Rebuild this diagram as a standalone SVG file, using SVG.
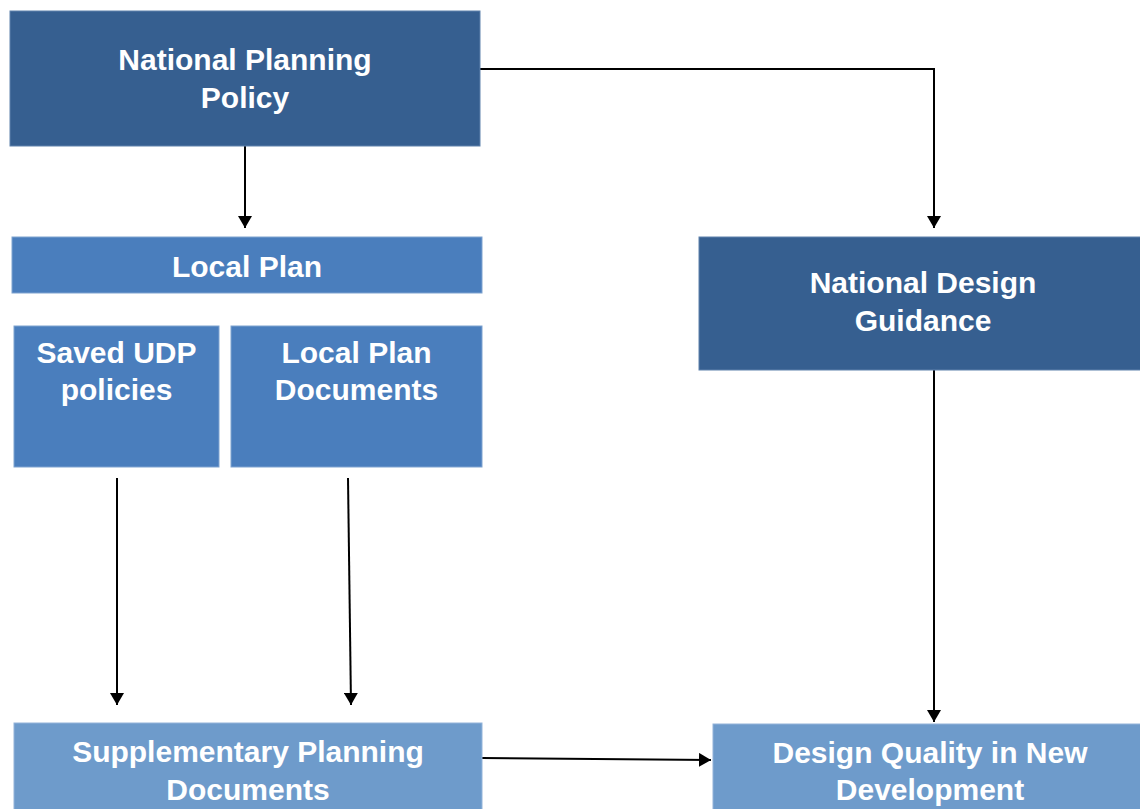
<svg xmlns="http://www.w3.org/2000/svg" width="1140" height="809" viewBox="0 0 1140 809">
<defs>
<style>
.dark{fill:#365F90;stroke:#5F82AC;stroke-width:1}
.mid{fill:#4A7EBD;stroke:#7FA3D0;stroke-width:1}
.light{fill:#6E9BCB;stroke:#93B4DA;stroke-width:1}
.t{font-family:"Liberation Sans",Arial,sans-serif;font-weight:bold;font-size:30px;fill:#ffffff;text-anchor:middle}
.c{stroke:#000;stroke-width:2;fill:none}
</style>
<marker id="ah" viewBox="0 0 12 14" refX="12" refY="7" markerWidth="12" markerHeight="14" markerUnits="userSpaceOnUse" orient="auto">
<path d="M0,0 L12,7 L0,14 z" fill="#000"/>
</marker>
</defs>
<rect width="1140" height="809" fill="#ffffff"/>
<g id="connectors">
<path class="c" d="M245,146 V228" marker-end="url(#ah)"/>
<path class="c" d="M480,69 H934 V228" marker-end="url(#ah)"/>
<path class="c" d="M934,370 V722" marker-end="url(#ah)"/>
<path class="c" d="M117,478 V705" marker-end="url(#ah)"/>
<path class="c" d="M348,478 L351,705" marker-end="url(#ah)"/>
<path class="c" d="M482,758 L711,760" marker-end="url(#ah)"/>
</g>
<g id="national-planning-policy">
<rect class="dark" x="10" y="11" width="470" height="135"/>
<text class="t" x="245" y="70">National Planning</text>
<text class="t" x="245" y="108">Policy</text>
</g>
<g id="local-plan">
<rect class="mid" x="12" y="237" width="470" height="56"/>
<text class="t" x="247" y="277">Local Plan</text>
</g>
<g id="saved-udp">
<rect class="mid" x="14" y="326" width="205" height="141"/>
<text class="t" x="116.5" y="363">Saved UDP</text>
<text class="t" x="116.5" y="400">policies</text>
</g>
<g id="local-plan-documents">
<rect class="mid" x="231" y="326" width="251" height="141"/>
<text class="t" x="356.5" y="363">Local Plan</text>
<text class="t" x="356.5" y="400">Documents</text>
</g>
<g id="national-design-guidance">
<rect class="dark" x="699" y="237" width="448" height="133"/>
<text class="t" x="923" y="293">National Design</text>
<text class="t" x="923" y="331">Guidance</text>
</g>
<g id="supplementary-planning-documents">
<rect class="light" x="14" y="723" width="468" height="95"/>
<text class="t" x="248" y="762">Supplementary Planning</text>
<text class="t" x="248" y="800">Documents</text>
</g>
<g id="design-quality">
<rect class="light" x="713" y="724" width="435" height="95"/>
<text class="t" x="930" y="763">Design Quality in New</text>
<text class="t" x="930" y="800">Development</text>
</g>
</svg>
